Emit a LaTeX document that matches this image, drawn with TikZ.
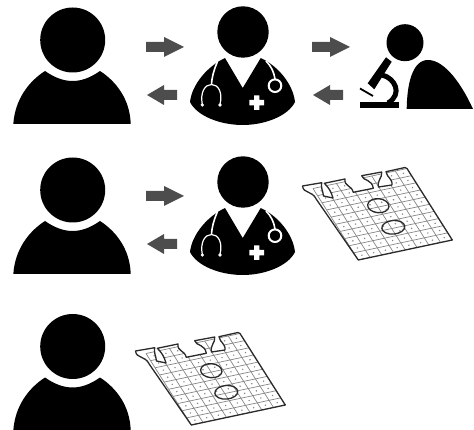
\documentclass[tikz,border=0pt]{standalone}
\definecolor{arrowgray}{HTML}{4D4D4D}
\definecolor{chipline}{HTML}{2B2B2B}
\definecolor{chipgrid}{HTML}{858585}
\newcommand{\chipoutline}{(358.3,260) -- (452.3,240) -- (407,168.5) -- (405,167.5) -- (386,171.7)
  .. controls (387,178) and (392.5,178) .. (392,185) -- (378.5,187)
  .. controls (377,180) and (382.5,178) .. (381.7,172) -- (361.7,175.7)
  .. controls (363,181) and (372,179) .. (373.3,188.3) -- (353.3,192.3)
  .. controls (351.5,185) and (344,186.5) .. (345,179) -- (324.3,183.3)
  .. controls (328.5,187.5) and (331,191) .. (333,198) -- (323.5,196)
  .. controls (323,191) and (320.5,187) .. (321.7,182.7) -- (302.5,186)
  .. controls (303.5,194) and (312,190) .. (316.5,199.5) -- cycle}
\tikzset{
  icon/.style={fill=black,draw=none},
  marking/.style={draw=white,line width=1.6pt,fill=none},
  blockarrow/.style={fill=arrowgray,draw=none},
  chipedge/.style={draw=chipline,line width=1.3pt,line join=round},
  chipcell/.style={draw=chipgrid,line width=.7pt},
  patient/.pic={
    \fill[icon] (72.7,40) circle (32.5);
    \fill[icon] (13.3,124) .. controls (15,100) and (28,82) .. (45,71)
      .. controls (55,78) and (64,81) .. (72.7,81)
      .. controls (81,81) and (90,78) .. (100,71)
      .. controls (117,82) and (130,100) .. (130.7,124) -- cycle;
  },
  doctor/.pic={
    \fill[icon] (243,32) circle (25.7);
    \fill[icon] (190,102) .. controls (192,84) and (208,66) .. (225,58)
      -- (242.7,88) -- (260.7,58)
      .. controls (278,66) and (293,84) .. (295,102)
      .. controls (288,116) and (265,125) .. (242.7,125)
      .. controls (220,125) and (197,116) .. (190,102) -- cycle;
    \draw[marking] (217.3,62) .. controls (214,70) and (212,76) .. (211.5,84.5);
    \draw[marking,line width=1.2pt] (202.3,104.5) .. controls (200,92) and (205,84.5) .. (211.5,84.5)
      .. controls (218,84.5) and (223,92) .. (220,104.5);
    \fill[white] (202.3,105) circle (1.8) (220,105) circle (1.8);
    \draw[marking] (266,61) .. controls (271,66) and (274,72) .. (275,79);
    \draw[marking,line width=2pt] (275,85.7) circle (6.3);
    \fill[white] (254,95.4) rectangle (259.4,110) (249.4,100) rectangle (264,105.4);
  },
  toright/.pic={
    \fill[blockarrow] (0,-5) -- (18,-5) -- (18,-10) -- (38,0) -- (18,10) -- (18,5) -- (0,5) -- cycle;
  },
  toleft/.pic={
    \fill[blockarrow] (0,0) -- (17,-10) -- (17,-5) -- (30,-5) -- (30,5) -- (17,5) -- (17,10) -- cycle;
  },
  labchip/.pic={
    \begin{scope}
      \clip \chipoutline;
      \begin{scope}[shift={(358.3,260)},x={(11.75pt,2.5pt)},y={(-4.53pt,7.15pt)}]
        \foreach \col in {0,...,8}
          \draw[chipcell] (\col,0) -- (\col,10);
        \foreach \row in {0,...,10}
          \draw[chipcell] (0,\row) -- (8,\row);
        \foreach \col in {0,...,7}
          \foreach \row in {0,...,9}
            \fill[chipgrid] (\col+.5,\row+.5) circle (.8pt);
      \end{scope}
    \end{scope}
    \draw[chipedge] \chipoutline;
    \draw[chipedge] (378.3,205.7) ellipse [x radius=10.7,y radius=7,rotate=-5];
    \draw[chipedge] (393.3,227.3) ellipse [x radius=11.5,y radius=6.8,rotate=5];
  }
}
\begin{document}
\begin{tikzpicture}[x=1pt,y=-1pt]
  \clip (0,0) rectangle (474,430);
  \pic (patientTop) at (0,0) {patient};
  \pic (patientMid) at (0,150) {patient};
  \pic (patientLow) at (0,306.5) {patient};
  \pic (doctorTop) at (0,0) {doctor};
  \pic (doctorMid) at (0,150) {doctor};
  \pic (sendTop) at (146,47) {toright};
  \pic (backTop) at (147,95) {toleft};
  \pic (sendLab) at (312,47) {toright};
  \pic (backLab) at (313,95) {toleft};
  \pic (sendMid) at (146,196) {toright};
  \pic (backMid) at (147,244) {toleft};
  \fill[icon] (405,42.7) circle (18.5);
  \fill[icon] (406.7,109) .. controls (407,85) and (412,60) .. (428,60)
    .. controls (445,60) and (462,85) .. (473,109) -- cycle;
  \fill[icon] (360,102) rectangle (399.3,108.5);
  \fill[icon] (386,57.3) -- (391.7,61.7) -- (374.3,89.3) -- (367.7,83.3) -- cycle;
  \draw[line width=5pt] (382,75) .. controls (395,78) and (403,94) .. (388,103);
  \draw[line width=1.8pt] (360,88.5) -- (373,96);
  \pic (chipMid) at (0,0) {labchip};
  \pic (chipLow) at (-167,165) {labchip};
\end{tikzpicture}
\end{document}
